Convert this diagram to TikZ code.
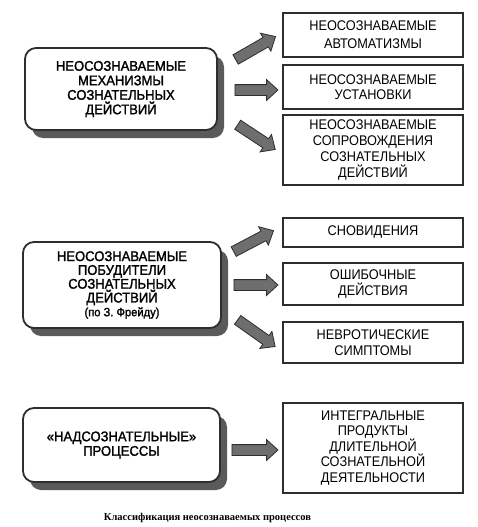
\documentclass[tikz,border=0pt]{standalone}
\usepackage{fontspec}
\setmainfont{Liberation Sans}
\newfontfamily\capfont{Liberation Serif}
\newfontfamily\rfont[FakeStretch=0.91]{Liberation Sans}
\newfontfamily\lfont[FakeStretch=0.93,FakeBold=1.6]{Liberation Sans}
\usetikzlibrary{shapes.arrows,shadows}
\definecolor{ink}{HTML}{2E2E2E}
\definecolor{shade}{HTML}{5A5A5A}
\definecolor{arrowfill}{HTML}{6E6E6E}
\tikzset{
  leftbox/.style={draw=ink, line width=1.8pt, rounded corners=11pt, fill=white,
    align=center, inner sep=0pt,
    font=\lfont\fontsize{14}{14.5}\selectfont,
    drop shadow={shadow xshift=7pt, shadow yshift=-8pt, fill=shade, opacity=1}},
  rightbox/.style={draw=ink, line width=1.4pt, fill=white, align=center, inner sep=0pt,
    minimum width=180pt, font=\rfont\fontsize{14}{15.5}\selectfont},
  blockarrow/.style={single arrow, draw=ink, fill=arrowfill, line width=0.8pt,
    inner sep=5pt, single arrow head extend=5pt, single arrow tip angle=85,
    anchor=center, sloped},
}
\begin{document}
\begin{tikzpicture}[x=1pt,y=-1pt]
\useasboundingbox (0,0) rectangle (477,527);
% left boxes
\node[leftbox, minimum width=192pt, minimum height=82pt] (L1) at (121,89)
  {НЕОСОЗНАВАЕМЫЕ\\МЕХАНИЗМЫ\\СОЗНАТЕЛЬНЫХ\\ДЕЙСТВИЙ};
\node[leftbox, minimum width=198pt, minimum height=86pt, font=\lfont\fontsize{14}{13.8}\selectfont] (L2) at (122,285)
  {НЕОСОЗНАВАЕМЫЕ\\ПОБУДИТЕЛИ\\СОЗНАТЕЛЬНЫХ\\ДЕЙСТВИЙ\\{\fontsize{12}{13}\selectfont(по З. Фрейду)}};
\node[leftbox, minimum width=197pt, minimum height=74pt] (L3) at (121.5,445)
  {«НАДСОЗНАТЕЛЬНЫЕ»\\ПРОЦЕССЫ};
% right boxes
\node[rightbox, minimum height=44pt, font=\rfont\fontsize{14}{18}\selectfont] (A) at (373,35)
  {НЕОСОЗНАВАЕМЫЕ\\АВТОМАТИЗМЫ};
\node[rightbox, minimum height=44pt] (B) at (373,87)
  {НЕОСОЗНАВАЕМЫЕ\\УСТАНОВКИ};
\node[rightbox, minimum height=70pt, font=\rfont\fontsize{14}{16}\selectfont] (C) at (373,150)
  {НЕОСОЗНАВАЕМЫЕ\\СОПРОВОЖДЕНИЯ\\СОЗНАТЕЛЬНЫХ\\ДЕЙСТВИЙ};
\node[rightbox, minimum height=29pt] (D) at (373,232.5) {СНОВИДЕНИЯ};
\node[rightbox, minimum height=42pt] (E) at (373,284) {ОШИБОЧНЫЕ\\ДЕЙСТВИЯ};
\node[rightbox, minimum height=41pt] (F) at (373,342.5) {НЕВРОТИЧЕСКИЕ\\СИМПТОМЫ};
\node[rightbox, minimum height=90pt] (G) at (373,448)
  {ИНТЕГРАЛЬНЫЕ\\ПРОДУКТЫ\\ДЛИТЕЛЬНОЙ\\СОЗНАТЕЛЬНОЙ\\ДЕЯТЕЛЬНОСТИ};
% arrow end points
\coordinate (a1s) at (233,61);  \coordinate (a1t) at (273,38);
\coordinate (a2s) at (232,90);  \coordinate (a2t) at (275,90);
\coordinate (a3s) at (235,123); \coordinate (a3t) at (273,148);
\coordinate (b1s) at (231,253); \coordinate (b1t) at (271,232);
\coordinate (b2s) at (231,285); \coordinate (b2t) at (275,285);
\coordinate (b3s) at (235,318); \coordinate (b3t) at (273,345);
\coordinate (c1s) at (229,450); \coordinate (c1t) at (275,450);
% arrows
\path (a1s) -- (a1t) node[blockarrow, midway, minimum height=46pt] (arrA) {};
\path (a2s) -- (a2t) node[blockarrow, midway, minimum height=43pt] (arrB) {};
\path (a3s) -- (a3t) node[blockarrow, midway, minimum height=45pt] (arrC) {};
\path (b1s) -- (b1t) node[blockarrow, midway, minimum height=45pt] (arrD) {};
\path (b2s) -- (b2t) node[blockarrow, midway, minimum height=44pt] (arrE) {};
\path (b3s) -- (b3t) node[blockarrow, midway, minimum height=46pt] (arrF) {};
\path (c1s) -- (c1t) node[blockarrow, midway, minimum height=46pt] (arrG) {};
% caption
\node[font=\capfont\bfseries\fontsize{10.5}{12}\selectfont] (cap) at (207.5,518)
  {Классификация неосознаваемых процессов};
\end{tikzpicture}
\end{document}
